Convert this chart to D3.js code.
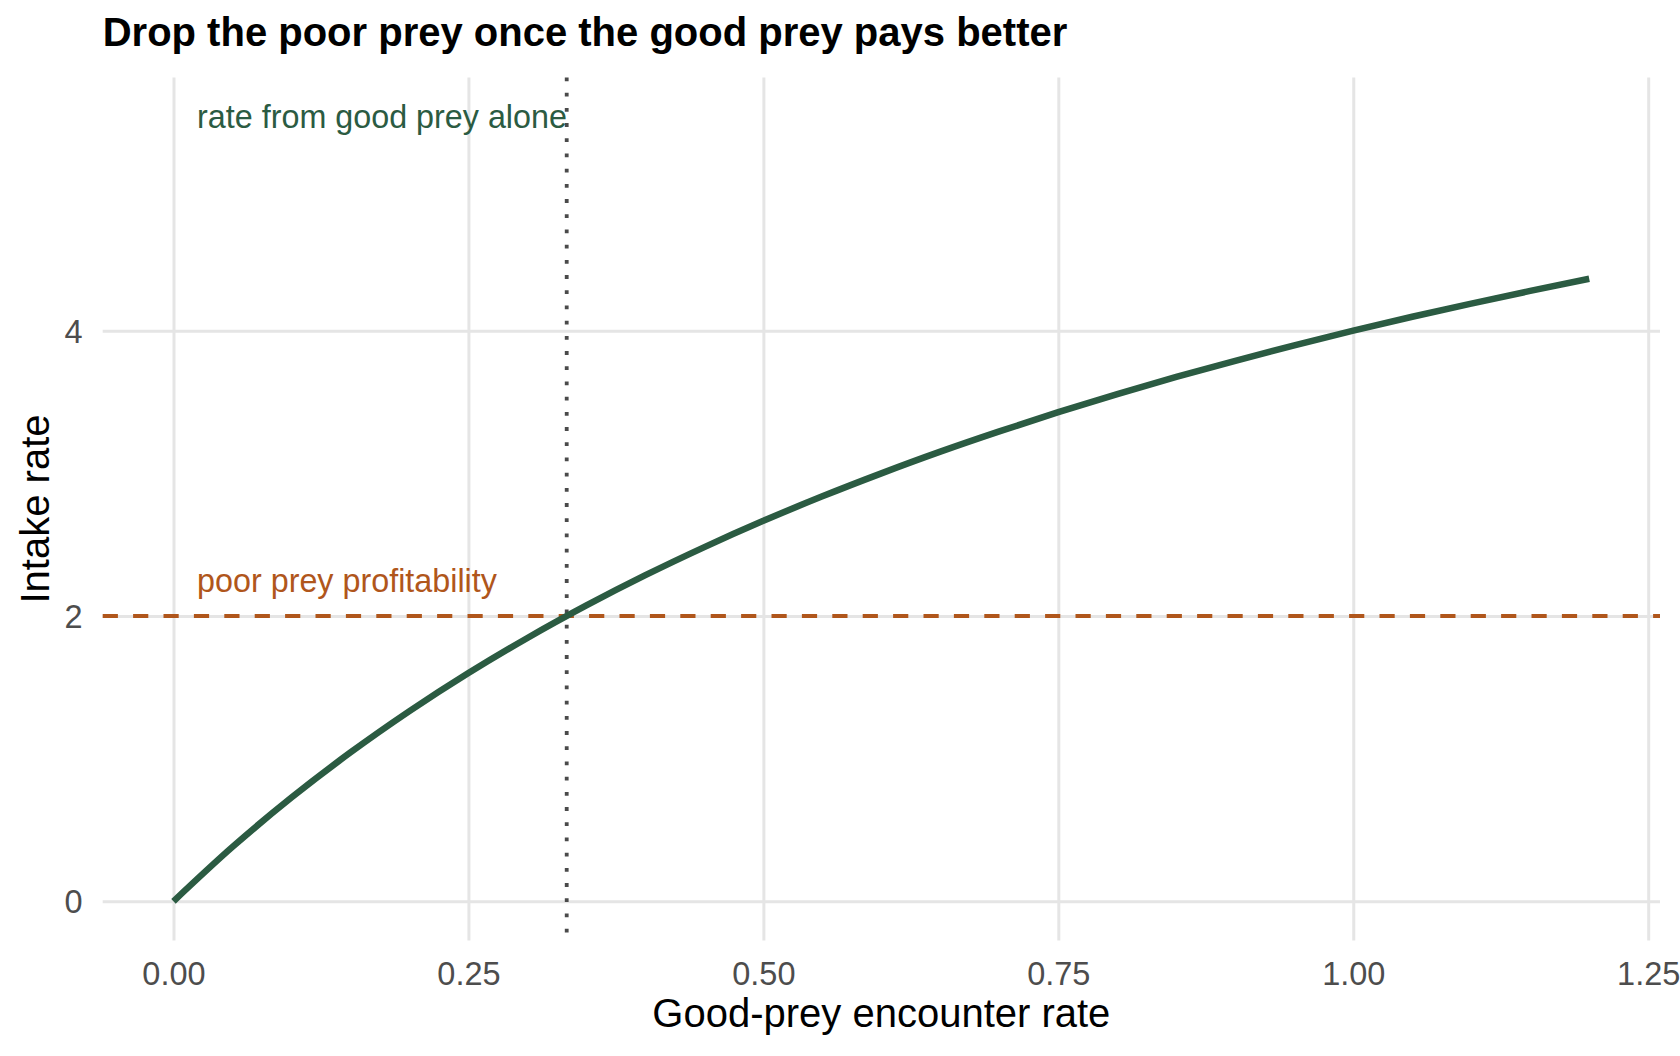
<!DOCTYPE html>
<html>
<head>
<meta charset="utf-8">
<script src="https://cdn.jsdelivr.net/npm/d3@7"></script>
<style>
  html, body { margin: 0; padding: 0; background: #ffffff; }
  svg { display: block; }
</style>
</head>
<body>
<svg id="chart" width="1680" height="1056"></svg>
<script>
// ---- data ----
const encounterRate = [0, 0.05, 0.10, 0.15, 0.20, 0.25, 0.30, 0.35, 0.40, 0.45, 0.50, 0.55, 0.60,
                       0.65, 0.70, 0.75, 0.80, 0.85, 0.90, 0.95, 1.00, 1.05, 1.10, 1.15, 1.20];
const intakeRate    = [0, 0.381, 0.727, 1.043, 1.333, 1.600, 1.846, 2.074, 2.286, 2.483, 2.667, 2.839, 3.000,
                       3.152, 3.294, 3.429, 3.556, 3.676, 3.789, 3.897, 4.000, 4.098, 4.190, 4.279, 4.364];
const poorProfitability = 2;
const switchPoint = 0.3333;
const xTicks = [0, 0.25, 0.5, 0.75, 1.0, 1.25];
const xTickLabels = ["0.00", "0.25", "0.50", "0.75", "1.00", "1.25"];
const yTicks = [0, 2, 4];
const yTickLabels = ["0", "2", "4"];
const annotations = [
  { x: 0.02, y: 5.5, text: "rate from good prey alone", kind: "good" },
  { x: 0.02, y: 2.245, text: "poor prey profitability", kind: "poor" }
];
const titleText = "Drop the poor prey once the good prey pays better";
const xTitle = "Good-prey encounter rate";
const yTitle = "Intake rate";

// ---- layout ----
const FONT = "'Liberation Sans', Arial, Helvetica, sans-serif";
const GREEN = "#2b5b42";
const ORANGE = "#b0561b";
const panel = { left: 102.7, right: 1660, top: 77.5, bottom: 940.5 };

const svg = d3.select("#chart");
svg.append("rect").attr("width", 1680).attr("height", 1056).attr("fill", "#ffffff");

const x = d3.scaleLinear().domain([-0.06, 1.26]).range([panel.left, panel.right]);
const y = d3.scaleLinear().domain([-0.275, 5.775]).range([panel.bottom, panel.top]);

// gridlines via axes
const gridX = d3.axisBottom(x).tickValues(xTicks).tickSize(-(panel.bottom - panel.top)).tickFormat("");
const gx = svg.append("g").attr("transform", `translate(0,${panel.bottom})`).call(gridX);
gx.select(".domain").remove();
gx.selectAll("line").attr("stroke", "#e5e5e5").attr("stroke-width", 3);

const gridY = d3.axisLeft(y).tickValues(yTicks).tickSize(-(panel.right - panel.left)).tickFormat("");
const gy = svg.append("g").attr("transform", `translate(${panel.left},0)`).call(gridY);
gy.select(".domain").remove();
gy.selectAll("line").attr("stroke", "#e5e5e5").attr("stroke-width", 3);

// tick labels via axes
const axX = d3.axisBottom(x).tickValues(xTicks).tickSize(0).tickPadding(0)
  .tickFormat((d, i) => xTickLabels[i]);
const ax = svg.append("g").attr("transform", `translate(0,${panel.bottom})`).call(axX);
ax.select(".domain").remove();
ax.selectAll("text").attr("font-family", FONT).attr("font-size", 32.5).attr("fill", "#4d4d4d")
  .attr("dy", null).attr("y", 44);

const axY = d3.axisLeft(y).tickValues(yTicks).tickSize(0).tickPadding(0)
  .tickFormat((d, i) => yTickLabels[i]);
const ay = svg.append("g").attr("transform", `translate(${panel.left},0)`).call(axY);
ay.select(".domain").remove();
ay.selectAll("text").attr("font-family", FONT).attr("font-size", 32.5).attr("fill", "#4d4d4d")
  .attr("x", -20).attr("dy", "0.35em");

// reference lines
svg.append("line")
  .attr("x1", panel.left).attr("x2", panel.right)
  .attr("y1", y(poorProfitability)).attr("y2", y(poorProfitability))
  .attr("stroke", ORANGE).attr("stroke-width", 3.8).attr("stroke-dasharray", "15.2 15.2");

svg.append("line")
  .attr("x1", x(switchPoint)).attr("x2", x(switchPoint))
  .attr("y1", panel.top).attr("y2", panel.bottom)
  .attr("stroke", "#4a4a4a").attr("stroke-width", 3.8).attr("stroke-dasharray", "3.8 11.4");

// curve
const pts = encounterRate.map((v, i) => [v, intakeRate[i]]);
const line = d3.line().x(d => x(d[0])).y(d => y(d[1])).curve(d3.curveMonotoneX);
svg.append("path").datum(pts).attr("d", line)
  .attr("fill", "none").attr("stroke", GREEN).attr("stroke-width", 6.5);

// annotations
svg.selectAll("text.ann").data(annotations).enter().append("text")
  .attr("class", "ann")
  .attr("x", d => x(d.x)).attr("y", d => y(d.y))
  .attr("dy", "0.35em")
  .attr("font-family", FONT).attr("font-size", 32.3)
  .attr("fill", d => d.kind === "good" ? GREEN : ORANGE)
  .text(d => d.text);

// titles
svg.append("text").attr("x", panel.left).attr("y", 46)
  .attr("font-family", FONT).attr("font-size", 40).attr("font-weight", "bold").attr("fill", "#000")
  .text(titleText);

svg.append("text").attr("x", (panel.left + panel.right) / 2).attr("y", 1027)
  .attr("text-anchor", "middle")
  .attr("font-family", FONT).attr("font-size", 40).attr("fill", "#000")
  .text(xTitle);

svg.append("text")
  .attr("transform", `translate(49,${(panel.top + panel.bottom) / 2}) rotate(-90)`)
  .attr("text-anchor", "middle")
  .attr("font-family", FONT).attr("font-size", 40).attr("fill", "#000")
  .text(yTitle);
</script>
</body>
</html>
